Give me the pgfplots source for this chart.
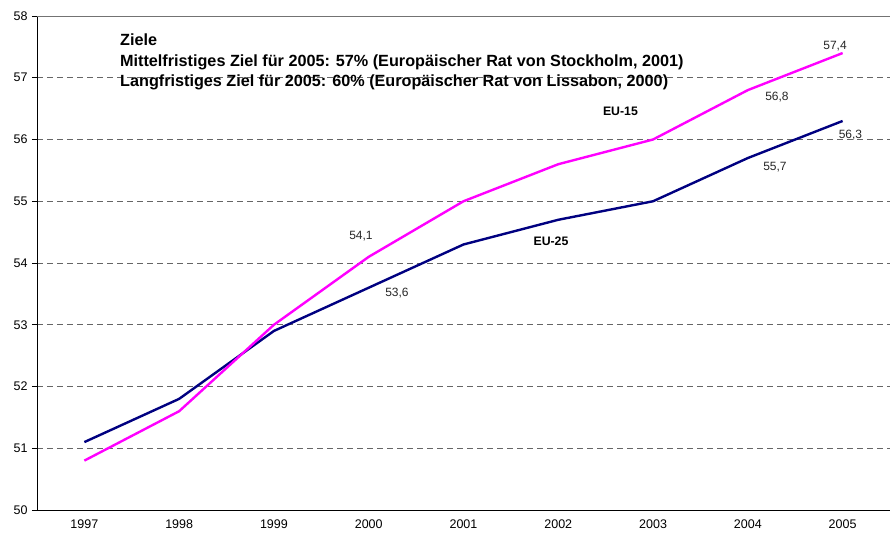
\documentclass[border=0pt]{standalone}
\usepackage{pgfplots}
\pgfplotsset{compat=1.18}
\usepackage{fontspec}
\setmainfont{Liberation Sans}
\definecolor{eufifteen}{RGB}{255,0,255}
\definecolor{eutwentyfive}{RGB}{0,0,128}
\begin{document}
\begin{tikzpicture}
\useasboundingbox (-37pt,-23pt) rectangle (853pt,510pt);
\begin{axis}[
  at={(0pt,0pt)}, anchor=south west,
  scale only axis, width=853pt, height=494pt,
  xmin=-0.5, xmax=8.5, ymin=50, ymax=58,
  axis x line*=bottom, axis y line*=left,
  axis line style={-, black, line width=0.8pt},
  xtick={0,...,8},
  xticklabels={1997,1998,1999,2000,2001,2002,2003,2004,2005},
  major x tick style={draw=none},
  extra x ticks={-0.5,0.5,1.5,2.5,3.5,4.5,5.5,6.5,7.5,8.5},
  extra x tick labels={},
  extra x tick style={tick align=outside, major tick length=5pt, major tick style={black, line width=0.8pt}, grid=none},
  ytick={50,...,57},
  extra y ticks={58},
  extra y tick style={grid=none},
  y tick style={black, line width=0.8pt},
  tick align=outside, major tick length=5pt,
  ymajorgrids,
  major grid style={black!60, line width=0.6pt, dash pattern=on 6pt off 4pt},
  ticklabel style={font=\fontsize{12.5}{14}\selectfont},
  /pgf/number format/assume math mode=true,
  xticklabel style={yshift=-3.5pt, inner sep=1pt},
  yticklabel style={xshift=-1pt},
  clip=false,
]
\draw[black!55, line width=0.8pt] (axis cs:-0.5,58) -- (axis cs:8.5,58);
\addplot[eutwentyfive, line width=2.4pt] coordinates {
 (0,51.1) (1,51.8) (2,52.9) (3,53.6) (4,54.3) (5,54.7) (6,55.0) (7,55.7) (8,56.3)};
\addplot[eufifteen, line width=2.4pt] coordinates {
 (0,50.8) (1,51.6) (2,53.0) (3,54.1) (4,55.0) (5,55.6) (6,56.0) (7,56.8) (8,57.4)};
\begin{scope}[every node/.style={font=\fontsize{12}{14}\selectfont, text=black!85, inner sep=0pt}]
\node at (axis cs:2.918,54.44) {54,1};
\node at (axis cs:3.298,53.52) {53,6};
\node at (axis cs:7.307,56.68) {56,8};
\node at (axis cs:7.286,55.56) {55,7};
\node at (axis cs:7.92,57.51) {57,4};
\node at (axis cs:8.083,56.07) {56,3};
\node[font=\bfseries\fontsize{12.3}{14}\selectfont, text=black] at (axis cs:5.656,56.45) {EU-15};
\node[font=\bfseries\fontsize{12.3}{14}\selectfont, text=black] at (axis cs:4.923,54.345) {EU-25};
\end{scope}
\begin{scope}[every node/.style={anchor=base west, inner sep=0pt, font=\bfseries\fontsize{16.2}{19}\selectfont}]
\node at (axis cs:0.3757,57.519) {Ziele};
\node at (axis cs:0.3757,57.190) {Mittelfristiges Ziel für 2005: 57\% (Europäischer Rat von Stockholm, 2001)};
\node at (axis cs:0.3757,56.861) {Langfristiges Ziel für 2005: 60\% (Europäischer Rat von Lissabon, 2000)};
\end{scope}
\end{axis}
\end{tikzpicture}
\end{document}
